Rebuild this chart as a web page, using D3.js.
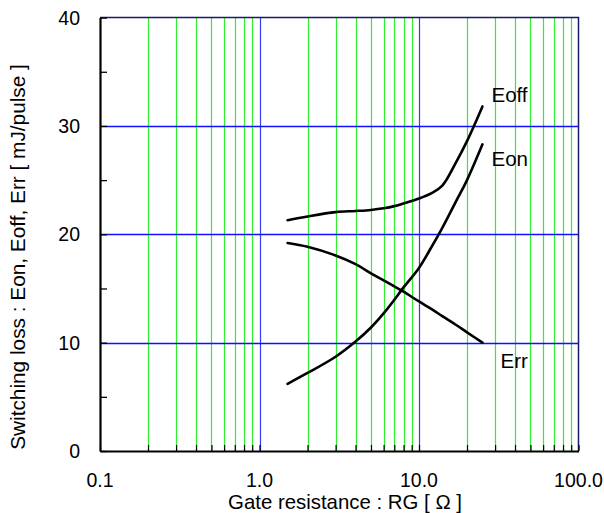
<!DOCTYPE html>
<html>
<head>
<meta charset="utf-8">
<script src="https://cdn.jsdelivr.net/npm/d3@7"></script>
<style>
  body { margin: 0; background: #fff; }
  text { font-family: "Liberation Sans", Arial, sans-serif; fill: #000; }
</style>
</head>
<body>
<div id="chart"></div>
<script>
const width = 604;
const height = 513;

// gate resistance [ohm] where the curves were read
const rg = [1.5, 2, 3, 4, 5, 6, 7, 8, 10, 12, 14, 17, 20, 25];

// switching losses [mJ/pulse]
const eoff = [21.3, 21.65, 22.05, 22.15, 22.25, 22.4, 22.6, 22.85, 23.3, 23.8, 24.5, 26.6, 28.6, 31.8];
const eon = [6.2, 7.2, 8.7, 10.1, 11.4, 12.7, 13.95, 15.1, 16.9, 18.85, 20.6, 23.0, 25.0, 28.3];
const err = [19.2, 18.85, 18.05, 17.25, 16.4, 15.75, 15.2, 14.7, 13.8, 13.1, 12.45, 11.65, 10.95, 10.0];

const seriesNames = ["Eoff", "Eon", "Err"];
const seriesValues = [eoff, eon, err];

const xTicks = [0.1, 1, 10, 100];
const xTickLabels = ["0.1", "1.0", "10.0", "100.0"];
const yTicks = [0, 10, 20, 30, 40];

const margin = { left: 100, right: 25.5, top: 17.6, bottom: 62 };

const svg = d3.select("#chart")
  .append("svg")
  .attr("width", width)
  .attr("height", height);

const x = d3.scaleLog()
  .domain([0.1, 100])
  .range([margin.left, width - margin.right]);

const y = d3.scaleLinear()
  .domain([0, 40])
  .range([height - margin.bottom, margin.top]);

// every 1..9 step of each decade
const minorX = d3.range(-1, 2).flatMap(e => d3.range(1, 10).map(m => m * Math.pow(10, e))).concat([100]);

// vertical grid: green in between, blue on the decades
svg.append("g")
  .selectAll("line")
  .data(minorX.filter(v => v > 0.1 && v < 100))
  .join("line")
  .attr("x1", d => Math.round(x(d)) + 0.5)
  .attr("x2", d => Math.round(x(d)) + 0.5)
  .attr("y1", y(40))
  .attr("y2", y(0))
  .attr("stroke", d => (Math.abs(Math.log10(d) % 1) < 1e-9 ? "#3a3aff" : "#2ef02e"))
  .attr("stroke-width", 1.2);

// horizontal grid
svg.append("g")
  .selectAll("line")
  .data([10, 20, 30])
  .join("line")
  .attr("x1", x(0.1))
  .attr("x2", x(100))
  .attr("y1", d => Math.round(y(d)) + 0.5)
  .attr("y2", d => Math.round(y(d)) + 0.5)
  .attr("stroke", "#1010ff")
  .attr("stroke-width", 1.3);

// top and right frame
svg.append("path")
  .attr("d", `M${x(0.1)},${y(40)}H${x(100)}V${y(0)}`)
  .attr("fill", "none")
  .attr("stroke", "#1a1a6a")
  .attr("stroke-width", 1.5);

// bottom axis: small inward ticks on every grid line
const xAxis = d3.axisBottom(x)
  .tickValues(minorX)
  .tickSizeInner(-6)
  .tickSizeOuter(0)
  .tickFormat("");

svg.append("g")
  .attr("transform", `translate(0,${y(0)})`)
  .call(xAxis)
  .call(g => g.select(".domain").attr("stroke-width", 2.2))
  .call(g => g.selectAll(".tick line").attr("stroke-width", 1.2));

svg.append("g")
  .selectAll("text")
  .data(xTicks)
  .join("text")
  .attr("x", d => x(d))
  .attr("y", 487)
  .attr("text-anchor", "middle")
  .style("font-size", "19.5px")
  .text((d, i) => xTickLabels[i]);

// left axis
const yAxis = d3.axisLeft(y)
  .tickValues(d3.range(0, 41, 5))
  .tickSizeInner(-7)
  .tickSizeOuter(0)
  .tickFormat("");

svg.append("g")
  .attr("transform", `translate(${x(0.1)},0)`)
  .call(yAxis)
  .call(g => g.select(".domain").attr("stroke-width", 2.2))
  .call(g => g.selectAll(".tick line").attr("stroke-width", 1.3));

svg.append("g")
  .selectAll("text")
  .data(yTicks)
  .join("text")
  .attr("x", 80)
  .attr("y", d => y(d))
  .attr("dy", "0.36em")
  .attr("text-anchor", "end")
  .style("font-size", "19.5px")
  .text(d => d);

// axis titles
svg.append("text")
  .attr("x", 345)
  .attr("y", 509)
  .attr("text-anchor", "middle")
  .style("font-size", "20.4px")
  .text("Gate resistance : RG [ \u03A9 ]");

svg.append("text")
  .attr("transform", "translate(25,257) rotate(-90)")
  .attr("text-anchor", "middle")
  .style("font-size", "20.8px")
  .text("Switching loss : Eon, Eoff, Err [ mJ/pulse ]");

// curves
const line = d3.line()
  .x(d => x(d[0]))
  .y(d => y(d[1]))
  .curve(d3.curveCatmullRom.alpha(0.5));

svg.append("g")
  .selectAll("path")
  .data(seriesValues)
  .join("path")
  .attr("d", vals => line(rg.map((r, i) => [r, vals[i]])))
  .attr("fill", "none")
  .attr("stroke", "#000")
  .attr("stroke-width", 2.6)
  .attr("stroke-linecap", "round");

// curve names next to the end of each curve
const labelOffsets = [[9, -4], [9, 22], [18, 25]];

svg.append("g")
  .selectAll("text")
  .data(seriesNames)
  .join("text")
  .attr("x", (d, i) => x(rg[rg.length - 1]) + labelOffsets[i][0])
  .attr("y", (d, i) => y(seriesValues[i][rg.length - 1]) + labelOffsets[i][1])
  .style("font-size", "20.5px")
  .text(d => d);
</script>
</body>
</html>
